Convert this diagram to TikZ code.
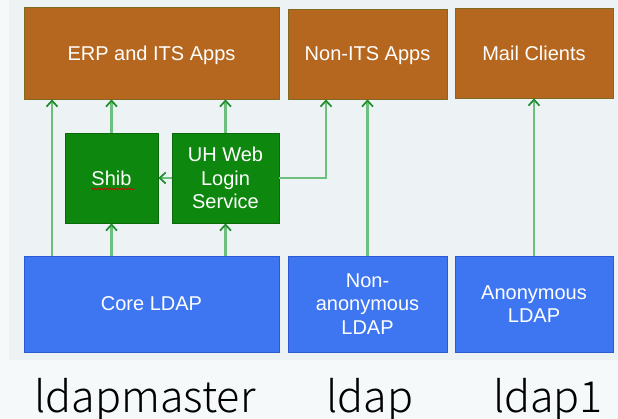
\documentclass[tikz,border=0pt]{standalone}
\usepackage{fontspec}
\setmainfont{Liberation Sans}
\newfontfamily\hostfont{Noto Sans CJK JP}[UprightFont=* Light]
\usetikzlibrary{arrows.meta,decorations.pathmorphing}

\definecolor{bgout}{HTML}{F6F9FA}
\definecolor{bgin}{HTML}{EDF2F4}
\definecolor{appfill}{HTML}{B6671F}
\definecolor{appline}{HTML}{7F6A22}
\definecolor{authfill}{HTML}{0D870D}
\definecolor{authline}{HTML}{0A6A0A}
\definecolor{ldapfill}{HTML}{3E76F2}
\definecolor{ldapline}{HTML}{2C5AD2}
\definecolor{linkline}{HTML}{6DBF7D}
\definecolor{linkhead}{HTML}{1E8C2E}

\tikzset{
  box/.style={rectangle, draw, line width=0.8pt, text=white, align=center,
    font=\fontsize{20}{23.5}\selectfont, inner sep=0pt},
  appbox/.style={box, fill=appfill, draw=appline},
  authbox/.style={box, fill=authfill, draw=authline},
  ldapbox/.style={box, fill=ldapfill, draw=ldapline},
  conn/.style={draw=linkline, line width=2.2pt,
    -{Straight Barb[length=6pt,width=11pt,line width=1.7pt,color=linkhead]}},
  host/.style={anchor=base, text=black, font=\hostfont\fontsize{43}{48}\selectfont}
}

\begin{document}
\begin{tikzpicture}[x=1pt,y=-1pt]
\useasboundingbox (0,0) rectangle (618,419);
\fill[bgout] (0,0) rectangle (618,419);
\fill[bgin] (9,0) rectangle (618,360);

% applications
\node[appbox, text depth=0pt, minimum width=255pt, minimum height=92pt] (erp) at (151.5,53) {ERP and ITS Apps};
\node[appbox, text depth=0pt, minimum width=159pt, minimum height=90pt] (nonits) at (367.5,54) {Non-ITS Apps};
\node[appbox, minimum width=158pt, minimum height=90pt] (mail) at (534,53) {Mail Clients};

% authentication services
\node[authbox, minimum width=93pt, minimum height=90pt] (shib) at (111.5,178) {Shib};
\node[authbox, minimum width=107pt, minimum height=90pt] (weblogin) at (225.5,178) {UH Web\\Login\\Service};

% directories
\node[ldapbox, minimum width=255pt, minimum height=96pt] (core) at (151.5,304) {Core LDAP};
\node[ldapbox, minimum width=159pt, minimum height=96pt] (nonanon) at (367.5,304) {Non-\\anonymous\\LDAP};
\node[ldapbox, minimum width=158pt, minimum height=96pt] (anon) at (534,304) {Anonymous\\LDAP};

% spell-check squiggle under "Shib"
\draw[red!85!black, line width=0.7pt, decorate,
  decoration={snake, amplitude=0.7pt, segment length=3pt}]
  ([xshift=-20pt,yshift=-11pt]shib.center) -- ([xshift=23pt,yshift=-11pt]shib.center);

% connectors
\draw[conn] ([xshift=-99.5pt]core.north) -- ([xshift=-99.5pt]erp.south);
\draw[conn] (core.north -| shib.south) -- (shib.south);
\draw[conn] (shib.north) -- (erp.south -| shib.north);
\draw[conn] (core.north -| weblogin.south) -- (weblogin.south);
\draw[conn] (weblogin.north) -- (erp.south -| weblogin.north);
\draw[conn] (weblogin.west) -- (shib.east);
\draw[conn] (weblogin.east) -| ([xshift=-41.5pt]nonits.south);
\draw[conn] (nonanon.north) -- (nonits.south);
\draw[conn] (anon.north) -- (mail.south);

% host names
\node[host] (hmaster) at (145,412) {ldapmaster};
\node[host] (hldap) at (370,412) {ldap};
\node[host] (hldap1) at (548,412) {ldap1};
\end{tikzpicture}
\end{document}
